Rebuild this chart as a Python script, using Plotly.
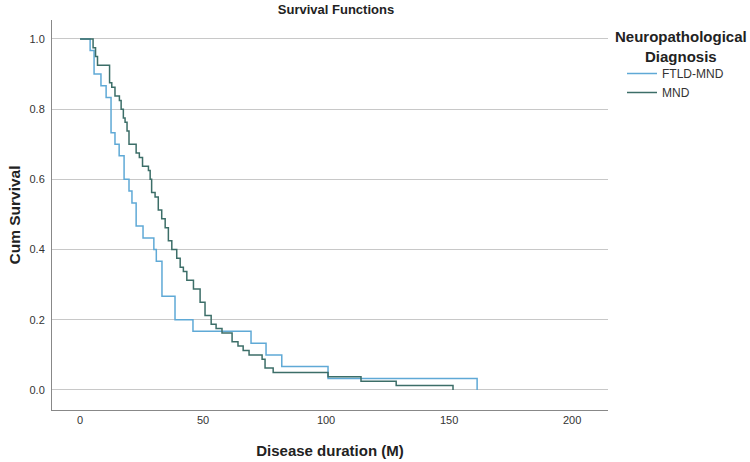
import plotly.graph_objects as go

# FTLD-MND group (n=30): step times (months) and cumulative survival after each step
ftld_time = [0, 4.1, 5.7, 8.5, 10.6, 12.6, 14.2, 15.9, 17.9, 19.9, 21.1, 22.8, 25.6,
             30.0, 31.0, 33.3, 38.6, 45.9, 69.5, 75.6, 82.0, 100.8, 161.4]
ftld_surv = [1.0, 0.967, 0.9, 0.867, 0.833, 0.733, 0.7, 0.667, 0.6, 0.567, 0.533, 0.467, 0.433,
             0.4, 0.367, 0.267, 0.2, 0.167, 0.133, 0.1, 0.067, 0.033, 0.0]

# MND group (n=80)
mnd_time = [0, 5.3, 6.3, 7.1, 12.0, 12.9, 14.2, 16.0, 16.7, 17.6, 18.3, 19.1, 19.9,
            22.8, 24.1, 25.4, 27.8, 28.5, 29.1, 30.5, 31.8, 33.2, 34.6, 35.9, 37.3,
            39.3, 40.7, 42.0, 43.4, 46.1, 48.8, 50.8, 53.3, 55.3, 57.7, 61.8, 64.2,
            66.3, 68.7, 74.0, 75.2, 78.5, 100.8, 114.2, 128.5, 151.6]
mnd_surv = [1.0, 0.975, 0.95, 0.925, 0.875, 0.8625, 0.8375, 0.825, 0.8, 0.775, 0.7625, 0.7375, 0.7,
            0.675, 0.6625, 0.6375, 0.625, 0.6, 0.5625, 0.55, 0.5125, 0.4875, 0.4625, 0.425, 0.4,
            0.375, 0.35, 0.3375, 0.3125, 0.2875, 0.25, 0.2125, 0.1875, 0.175, 0.1625, 0.1375, 0.125,
            0.1125, 0.1, 0.0875, 0.0625, 0.05, 0.0375, 0.025, 0.0125, 0.0]

x_ticks = [0, 50, 100, 150, 200]
y_ticks = [0.0, 0.2, 0.4, 0.6, 0.8, 1.0]
y_tick_labels = ["0.0", "0.2", "0.4", "0.6", "0.8", "1.0"]

FONT = "Liberation Sans, Arial, sans-serif"

fig = go.Figure()
fig.add_trace(go.Scatter(x=ftld_time, y=ftld_surv, mode="lines", name="FTLD-MND",
                         line=dict(shape="hv", color="#5fa9d6", width=1.5)))
fig.add_trace(go.Scatter(x=mnd_time, y=mnd_surv, mode="lines", name="MND",
                         line=dict(shape="hv", color="#3c6e68", width=1.5)))

fig.update_layout(
    width=750, height=462,
    margin=dict(l=52, r=142, t=20, b=52, autoexpand=False),
    plot_bgcolor="white", paper_bgcolor="white",
    font=dict(family=FONT, size=11, color="#333333"),
    title=dict(text="<b>Survival Functions</b>", x=336/750, xanchor="center",
               y=1 - 9/462, yanchor="middle", font=dict(size=13, color="#222222")),
    xaxis=dict(range=[-11.4, 214.6], tickvals=x_ticks, showgrid=False, zeroline=False,
               showline=True, linecolor="#888888", linewidth=1, ticks="", automargin=False,
               tickfont=dict(size=11, color="#333333"),
               title=dict(text="<b>Disease duration (M)</b>", font=dict(size=15, color="#222222"),
                          standoff=20)),
    yaxis=dict(range=[-0.057, 1.054], tickvals=y_ticks, ticktext=y_tick_labels,
               showgrid=True, gridcolor="#c8c8c8", gridwidth=1, zeroline=False,
               showline=True, linecolor="#888888", linewidth=1, ticks="", automargin=False,
               ticklabelstandoff=4,
               tickfont=dict(size=11, color="#333333"),
               title=dict(text="<b>Cum Survival</b>", font=dict(size=15.5, color="#222222"),
                          standoff=5)),
    legend=dict(x=(622-52)/556, xanchor="left", y=(410-59)/390, yanchor="top",
                font=dict(size=12, color="#333333"), itemwidth=30,
                tracegroupgap=0, bgcolor="rgba(0,0,0,0)"),
    showlegend=True,
)

fig.add_annotation(text="<b>Neuropathological<br>Diagnosis</b>", xref="paper", yref="paper",
                   x=(681-52)/556, y=(410-47)/390, xanchor="center", yanchor="middle",
                   showarrow=False, align="center",
                   font=dict(family=FONT, size=15, color="#222222"))

fig.write_html("out.html", post_script="document.body.style.margin='0';",
               config={"displayModeBar": False})
